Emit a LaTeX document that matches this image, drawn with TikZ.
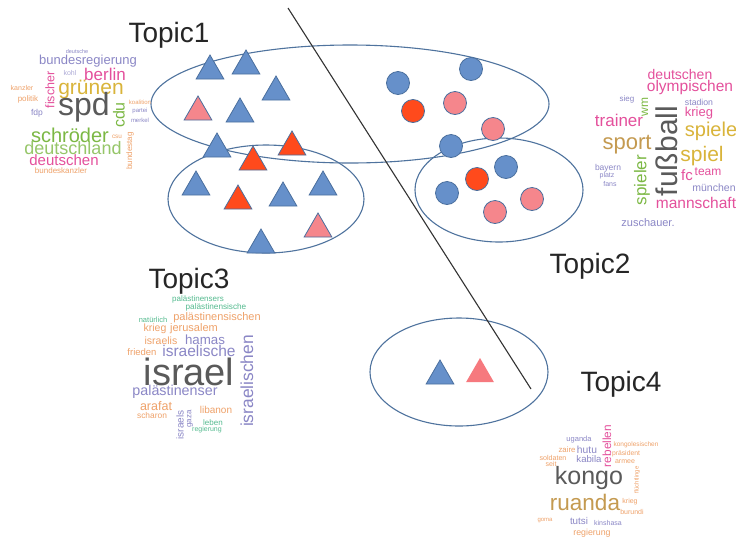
\documentclass[tikz,border=0pt]{standalone}
\usepackage{fontspec}
\setmainfont{Liberation Sans}
\usetikzlibrary{shapes.geometric}
\definecolor{ell}{HTML}{4F739E}
\definecolor{tblue}{HTML}{6690CA}
\definecolor{tbord}{HTML}{4A6F9E}
\definecolor{tred}{HTML}{FF4A1C}
\definecolor{tpink}{HTML}{F5868C}
\definecolor{wgrey}{HTML}{5A5A5A}
\definecolor{wmag}{HTML}{E4509C}
\definecolor{wgold}{HTML}{D9B43A}
\definecolor{wgreen}{HTML}{7CB844}
\definecolor{worange}{HTML}{EFA26A}
\definecolor{wpurple}{HTML}{8B87C6}
\definecolor{wtan}{HTML}{C49A50}
\definecolor{wteal}{HTML}{55BB90}
\tikzset{
  tri/.style={regular polygon, regular polygon sides=3, minimum size=32pt, inner sep=0pt, draw=tbord, line width=0.8pt},
  dot/.style={circle, minimum size=23pt, inner sep=0pt, draw=tbord, line width=0.8pt},
  bl/.style={fill=tblue},
  rd/.style={fill=tred},
  pk/.style={fill=tpink},
  elli/.style={draw=ell, line width=1.1pt},
  topic/.style={anchor=base, inner sep=0pt, text=black!85, font=\fontsize{28}{28}\selectfont},
  wd/.style={inner sep=0pt, outer sep=0pt},
  sz/.style={font=\fontsize{#1}{#1}\selectfont},
}
\begin{document}
\begin{tikzpicture}[x=1pt,y=-1pt]
\fill[white] (0,0) rectangle (736,539);
\useasboundingbox (0,0) rectangle (736,539);
% ellipses
\draw[elli] (350,104) ellipse [x radius=199, y radius=59];
\draw[elli] (266,199) ellipse [x radius=98, y radius=54];
\draw[elli] (499,190) ellipse [x radius=84, y radius=52];
\draw[elli] (459,372) ellipse [x radius=89, y radius=54];
% triangles (centroid = bbox centre + 4)
\node[tri,bl] (t1) at (210,71) {};
\node[tri,bl] (t2) at (246,66) {};
\node[tri,bl] (t3) at (276,92) {};
\node[tri,pk] (t4) at (198,112) {};
\node[tri,bl] (t5) at (240,114) {};
\node[tri,bl] (t6) at (217,149) {};
\node[tri,rd] (t7) at (292,147) {};
\node[tri,rd] (t8) at (253,162) {};
\node[tri,bl] (t9) at (196,187) {};
\node[tri,rd] (t10) at (238,201) {};
\node[tri,bl] (t11) at (283,198) {};
\node[tri,bl] (t12) at (323,187) {};
\node[tri,pk] (t13) at (318,229) {};
\node[tri,bl] (t14) at (261,245) {};
\node[tri,bl] (t15) at (440,376) {};
\node[tri,pk,draw=none,fill=tpink!90!red] (t16) at (480,374) {};
% circles
\node[dot,bl] (c1) at (398,83) {};
\node[dot,bl] (c2) at (471,69) {};
\node[dot,rd] (c3) at (413,111) {};
\node[dot,pk] (c4) at (455,103) {};
\node[dot,pk] (c5) at (493,129) {};
\node[dot,bl] (c6) at (451,146) {};
\node[dot,bl] (c7) at (506,167) {};
\node[dot,rd] (c8) at (477,179) {};
\node[dot,bl] (c9) at (447,193) {};
\node[dot,pk] (c10) at (532,199) {};
\node[dot,pk] (c11) at (495,212) {};
% separating line
\coordinate (la) at (288,8);
\coordinate (lb) at (531,389);
\draw[black!80, line width=1.1pt] (la) -- (lb);
% topic labels
\node[topic] (T1) at (169,42) {Topic1};
\node[topic] (T2) at (590,273) {Topic2};
\node[topic] (T3) at (189,288) {Topic3};
\node[topic] (T4) at (621,391) {Topic4};
% word cloud 1
\node[wd,sz=5.5,text=wpurple] (a1) at (77,52) {deutsche};
\node[wd,sz=13,text=wpurple] (a2) at (88,61) {bundesregierung};
\node[wd,sz=12.5,text=wmag,rotate=90] (a3) at (50,90) {fischer};
\node[wd,sz=7,text=wpurple!70] (a4) at (70,73) {kohl};
\node[wd,sz=17,text=wmag] (a5) at (105,74) {berlin};
\node[wd,sz=21,text=wgold] (a6) at (91,89) {grünen};
\node[wd,sz=7,text=worange] (a7) at (22,88) {kanzler};
\node[wd,sz=8,text=worange] (a8) at (28,99) {politik};
\node[wd,sz=8.5,text=wpurple] (a9) at (37,113) {fdp};
\node[wd,sz=32,text=wgrey] (a10) at (84,107) {spd};
\node[wd,sz=16,text=wgreen,rotate=90] (a11) at (119,115) {cdu};
\node[wd,sz=6,text=worange] (a12) at (140,102) {koalition};
\node[wd,sz=6,text=wpurple] (a13) at (140,111) {partei};
\node[wd,sz=6,text=wpurple] (a14) at (140,120) {merkel};
\node[wd,sz=20,text=wgreen] (a15) at (70,135) {schröder};
\node[wd,sz=6.4,text=worange] (a16) at (117,137) {csu};
\node[wd,sz=18,text=wgreen!80] (a17) at (73,148) {deutschland};
\node[wd,sz=15,text=wmag] (a18) at (64,160) {deutschen};
\node[wd,sz=8,text=worange] (a19) at (61,171) {bundeskanzler};
\node[wd,sz=8,text=worange,rotate=90] (a20) at (130,151) {bundestag};
% word cloud 2
\node[wd,sz=14,text=wmag] (b1) at (680,74) {deutschen};
\node[wd,sz=15.5,text=wmag] (b2) at (690,87) {olympischen};
\node[wd,sz=8,text=wpurple] (b3) at (627,99) {sieg};
\node[wd,sz=12,text=wgreen,rotate=90] (b4) at (645,107) {wm};
\node[wd,sz=8.7,text=wpurple] (b5) at (699,102) {stadion};
\node[wd,sz=13,text=wmag] (b6) at (699,113) {krieg};
\node[wd,sz=17,text=wmag] (b7) at (619,120) {trainer};
\node[wd,sz=20,text=wgold] (b8) at (711,131) {spiele};
\node[wd,sz=22,text=wtan] (b9) at (627,145) {sport};
\node[wd,sz=30,text=wgrey,rotate=90] (b10) at (667,151) {fußball};
\node[wd,sz=21,text=wgold] (b11) at (702,156) {spiel};
\node[wd,sz=8.5,text=wpurple] (b12) at (608,168) {bayern};
\node[wd,sz=7,text=wpurple] (b13) at (607,176) {platz};
\node[wd,sz=7,text=wpurple] (b14) at (610,184) {fans};
\node[wd,sz=17,text=wgreen,rotate=90] (b15) at (642,180) {spieler};
\node[wd,sz=15,text=wmag] (b16) at (687,175) {fc};
\node[wd,sz=12,text=wmag] (b17) at (708,172) {team};
\node[wd,sz=10.5,text=wpurple] (b18) at (714,188) {münchen};
\node[wd,sz=15.5,text=wmag] (b19) at (696,203) {mannschaft};
\node[wd,sz=11,text=wpurple] (b20) at (648,223) {zuschauer.};
% word cloud 3
\node[wd,sz=8,text=wteal] (d1) at (198,299) {palästinensers};
\node[wd,sz=8.2,text=wteal] (d2) at (216,307) {palästinensische};
\node[wd,sz=7.5,text=wteal] (d3) at (153,320) {natürlich};
\node[wd,sz=11,text=worange] (d4) at (217,318) {palästinensischen};
\node[wd,sz=10.5,text=worange] (d5) at (155,329) {krieg};
\node[wd,sz=11,text=worange] (d6) at (194,329) {jerusalem};
\node[wd,sz=10.5,text=worange] (d7) at (161,341) {israelis};
\node[wd,sz=13.3,text=wpurple] (d8) at (205,340) {hamas};
\node[wd,sz=9.5,text=worange] (d9) at (142,352) {frieden};
\node[wd,sz=15.5,text=wpurple] (d10) at (199,351) {israelische};
\node[wd,sz=17.4,text=wpurple,rotate=90] (d11) at (247,381) {israelischen};
\node[wd,sz=38,text=wgrey] (d12) at (189,372) {israel};
\node[wd,sz=14.3,text=wpurple] (d13) at (175,392) {palästinenser};
\node[wd,sz=12.5,text=worange] (d14) at (156,406) {arafat};
\node[wd,sz=8.4,text=worange] (d15) at (152,415) {scharon};
\node[wd,sz=10,text=worange] (d16) at (216,410) {libanon};
\node[wd,sz=8,text=wteal] (d17) at (213,423) {leben};
\node[wd,sz=7,text=wteal] (d18) at (207,430) {regierung};
\node[wd,sz=10,text=wpurple,rotate=90] (d19) at (180,425) {israels};
\node[wd,sz=8,text=wpurple,rotate=90] (d20) at (190,419) {gaza};
% word cloud 4
\node[wd,sz=7.5,text=wpurple] (e1) at (579,440) {uganda};
\node[wd,sz=11.8,text=wmag,rotate=90] (e2) at (607,446) {rebellen};
\node[wd,sz=6.5,text=worange] (e3) at (636,445) {kongolesischen};
\node[wd,sz=7.8,text=worange] (e4) at (567,450) {zaire};
\node[wd,sz=10.3,text=wpurple] (e5) at (587,450) {hutu};
\node[wd,sz=7.1,text=worange] (e6) at (553,458) {soldaten};
\node[wd,sz=9.6,text=wpurple] (e7) at (589,459) {kabila};
\node[wd,sz=6.8,text=worange] (e8) at (626,454) {präsident};
\node[wd,sz=7,text=worange] (e9) at (625,462) {armee};
\node[wd,sz=7,text=worange] (e10) at (551,464) {seit};
\node[wd,sz=6,text=worange,rotate=90] (e11) at (637,480) {flüchtlinge};
\node[wd,sz=25,text=wgrey] (e12) at (589,478) {kongo};
\node[wd,sz=22.5,text=wtan] (e13) at (585,502) {ruanda};
\node[wd,sz=7,text=worange] (e14) at (630,502) {krieg};
\node[wd,sz=7,text=worange] (e15) at (632,512) {burundi};
\node[wd,sz=6,text=worange] (e16) at (545,520) {goma};
\node[wd,sz=9.8,text=wpurple] (e17) at (579,521) {tutsi};
\node[wd,sz=7,text=wpurple] (e18) at (608,523) {kinshasa};
\node[wd,sz=8.8,text=worange] (e19) at (592,533) {regierung};
\end{tikzpicture}
\end{document}
